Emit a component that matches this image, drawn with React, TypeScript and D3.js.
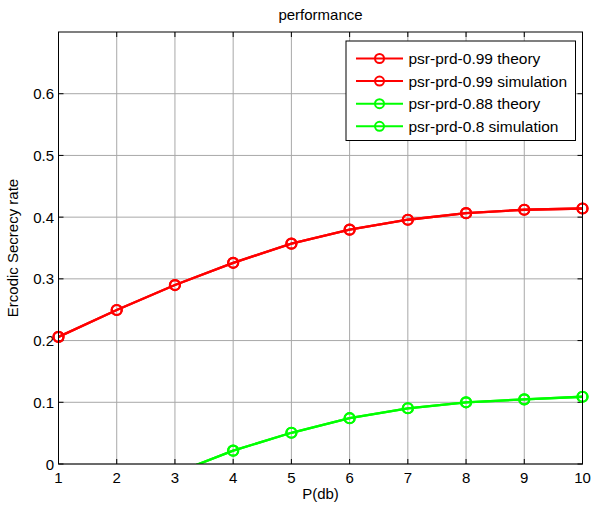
import React from "react";
import * as d3 from "d3";

const xValues = [1, 2, 3, 4, 5, 6, 7, 8, 9, 10];
const red099Theory = [0.206, 0.2495, 0.29, 0.326, 0.357, 0.3797, 0.3958, 0.4065, 0.412, 0.414];
const red099Sim = [0.206, 0.2495, 0.29, 0.326, 0.357, 0.3797, 0.3958, 0.4065, 0.412, 0.414];
const green088Theory = [-0.09, -0.05, -0.015, 0.0216, 0.0506, 0.0742, 0.0903, 0.1, 0.1048, 0.109];
const green08Sim = [-0.09, -0.05, -0.015, 0.0216, 0.0506, 0.0742, 0.0903, 0.1, 0.1048, 0.109];
const xTicks = [1, 2, 3, 4, 5, 6, 7, 8, 9, 10];
const yTicks = [0, 0.1, 0.2, 0.3, 0.4, 0.5, 0.6];
const seriesNames = [
  "psr-prd-0.99 theory",
  "psr-prd-0.99 simulation",
  "psr-prd-0.88 theory",
  "psr-prd-0.8 simulation",
];
const seriesColors = ["#ff0000", "#ff0000", "#00ff00", "#00ff00"];
const seriesData = [red099Theory, red099Sim, green088Theory, green08Sim];

const W = 592;
const H = 512;
const L = 58.5;
const R = 582.5;
const T = 32;
const B = 464;
const FONT = "'Liberation Sans', Arial, sans-serif";
const FS = 15;
const LFS = 15.5;

export default function App() {
  const x = d3.scaleLinear().domain([1, 10]).range([L, R]);
  const y = d3.scaleLinear().domain([0, 0.7]).range([B, T]);
  const line = d3
    .line<number>()
    .x((_, i) => x(xValues[i]))
    .y((d) => y(d));

  return (
    <svg
      width={W}
      height={H}
      style={{ position: "absolute", left: 0, top: 0, background: "#fff" }}
      fontFamily={FONT}
    >
      <defs>
        <clipPath id="plotClip">
          <rect x={L} y={T} width={R - L} height={B - T} />
        </clipPath>
      </defs>
      <rect x={0} y={0} width={W} height={H} fill="#fff" />
      {/* grid */}
      {xTicks.map((t) => (
        <line key={"gx" + t} x1={x(t)} x2={x(t)} y1={T} y2={B} stroke="#a8a8a8" strokeWidth={1} />
      ))}
      {yTicks.map((t) => (
        <line key={"gy" + t} x1={L} x2={R} y1={y(t)} y2={y(t)} stroke="#a8a8a8" strokeWidth={1} />
      ))}
      {/* ticks inward */}
      {xTicks.map((t) => (
        <g key={"tx" + t}>
          <line x1={x(t)} x2={x(t)} y1={B} y2={B - 5} stroke="#000" />
          <line x1={x(t)} x2={x(t)} y1={T} y2={T + 5} stroke="#000" />
          <text x={x(t)} y={B + 19} fontSize={FS} textAnchor="middle" fill="#000">
            {t}
          </text>
        </g>
      ))}
      {yTicks.map((t) => (
        <g key={"ty" + t}>
          <line x1={L} x2={L + 5} y1={y(t)} y2={y(t)} stroke="#000" />
          <line x1={R} x2={R - 5} y1={y(t)} y2={y(t)} stroke="#000" />
          <text x={L - 4.5} y={y(t) + 5.5} fontSize={FS} textAnchor="end" fill="#000">
            {t === 0 ? "0" : d3.format(".1f")(t)}
          </text>
        </g>
      ))}
      {/* series */}
      <g clipPath="url(#plotClip)">
        {seriesData.map((s, i) => (
          <path key={"l" + i} d={line(s) || ""} fill="none" stroke={seriesColors[i]} strokeWidth={2.3} />
        ))}
      </g>
      {seriesData.map((s, i) => (
        <g key={"m" + i}>
          {s.map((v, j) =>
            v >= 0 ? (
              <circle key={j} cx={x(xValues[j])} cy={y(v)} r={5} fill="none" stroke={seriesColors[i]} strokeWidth={2.2} />
            ) : null
          )}
        </g>
      ))}
      {/* axes box */}
      <rect x={L} y={T} width={R - L} height={B - T} fill="none" stroke="#000" strokeWidth={1} />
      {/* legend */}
      <g>
        <rect x={346} y={41} width={229.5} height={99.5} fill="#fff" stroke="#000" strokeWidth={1} />
        {seriesNames.map((n, i) => {
          const ly = 58.5 + i * 22.6;
          return (
            <g key={"lg" + i}>
              <line x1={356} x2={403} y1={ly} y2={ly} stroke={seriesColors[i]} strokeWidth={2} />
              <circle cx={379.5} cy={ly} r={4.5} fill="none" stroke={seriesColors[i]} strokeWidth={2} />
              <text x={408.5} y={ly + 5.5} fontSize={LFS} fill="#000">
                {n}
              </text>
            </g>
          );
        })}
      </g>
      {/* titles */}
      <text x={(L + R) / 2} y={19.5} fontSize={FS} textAnchor="middle" fill="#000">
        performance
      </text>
      <text x={(L + R) / 2} y={499} fontSize={FS} textAnchor="middle" fill="#000">
        P(db)
      </text>
      <text
        transform={`translate(17.5, ${(T + B) / 2}) rotate(-90)`}
        fontSize={FS}
        textAnchor="middle"
        fill="#000"
      >
        Ercodic Secrecy rate
      </text>
    </svg>
  );
}
